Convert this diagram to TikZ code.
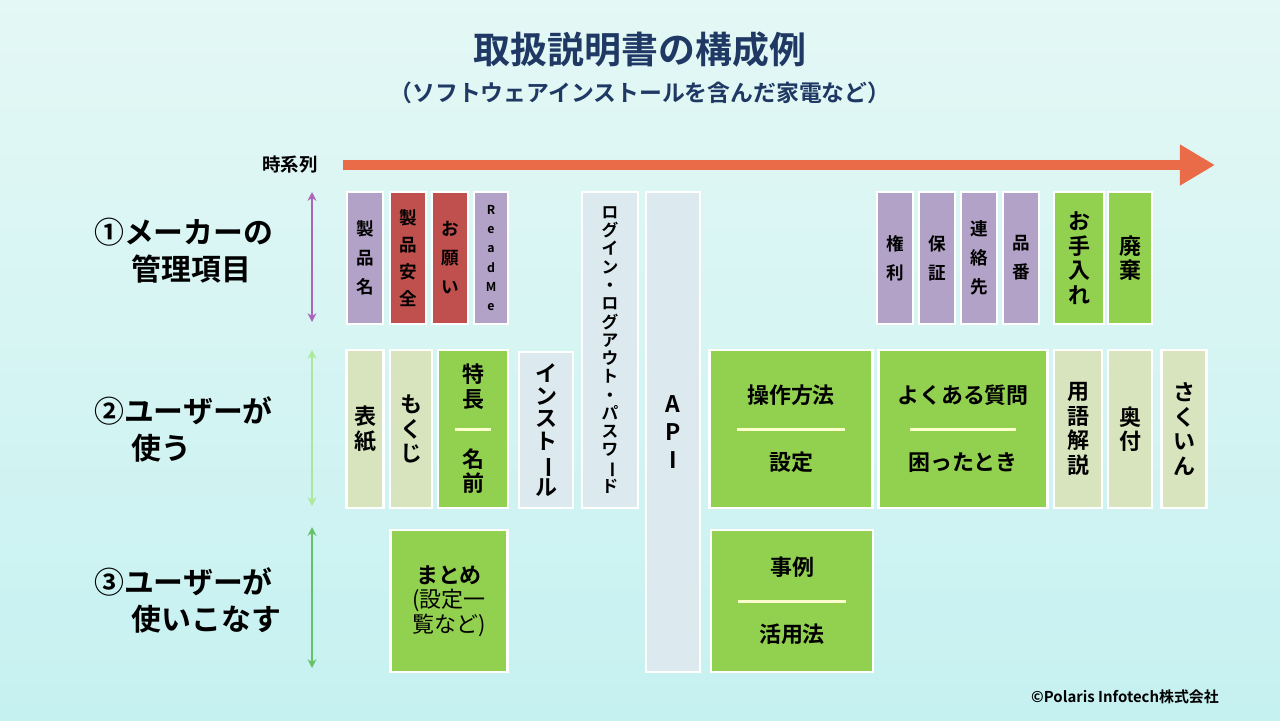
\documentclass[tikz,border=0pt]{standalone}
\usepackage{fontspec}
\setmainfont{Noto Sans CJK JP}[BoldFont={Noto Sans CJK JP Bold}]
\usepackage{graphicx}
\usetikzlibrary{arrows.meta,shadows}
\definecolor{navy}{HTML}{1F3864}
\definecolor{purp}{HTML}{B3A2C7}
\definecolor{redb}{HTML}{C0504D}
\definecolor{grn}{HTML}{92D050}
\definecolor{beige}{HTML}{D7E4BD}
\definecolor{lblue}{HTML}{DCEAF0}
\definecolor{timec}{HTML}{EA6B48}
\definecolor{bgtop}{HTML}{E4F8F5}
\definecolor{bgbot}{HTML}{C6F1F1}
\newcommand\vb{\rotatebox[origin=c]{-90}{ー}}
\newcommand\bx[7]{\node[box,#1,minimum width=#5*0.02cm,minimum height=#6*0.02cm] (#2) at (#3,#4) {#7};}
\tikzset{
  box/.style={draw=white,line width=1.5pt,inner sep=0pt,align=center,font=\bfseries,
    drop shadow={opacity=0.2,shadow xshift=0.6pt,shadow yshift=-0.6pt}},
  small/.style={font=\bfseries\fontsize{10}{16.5}\selectfont},
  big/.style={font=\bfseries\fontsize{12.5}{14}\selectfont},
  sep/.style={draw=green!10!yellow!20,line width=1.7pt},
  span/.style={{Stealth[length=5pt,width=5pt]}-{Stealth[length=5pt,width=5pt]},line width=1.4pt},
  rowlab/.style={anchor=west,align=left,font=\bfseries\fontsize{17}{21}\selectfont}
}
\begin{document}
\begin{tikzpicture}[x=0.02cm,y=-0.02cm]
  % background
  \shade[top color=bgtop,bottom color=bgbot] (0,0) rectangle (1280,720);
  \useasboundingbox (0,0) rectangle (1280,720);

  % title
  \node[text=navy,font=\bfseries\fontsize{21}{24}\selectfont] (title) at (640,50) {取扱説明書の構成例};
  \node[text=navy,font=\bfseries\fontsize{13}{15}\selectfont] (sub) at (640,93) {（ソフトウェアインストールを含んだ家電など）};

  % time axis
  \node[font=\bfseries\fontsize{10.5}{12}\selectfont] (tlab) at (290,165) {時系列};
  \coordinate (t0) at (343,165);
  \coordinate (t1) at (1215,165);
  \draw[timec,line width=5.5pt,-{Triangle[length=20pt,width=22pt]}] (t0) -- (t1);

  % row labels
  \node[rowlab] (r1) at (88,251) {①メーカーの\\\hspace{1.25em}管理項目};
  \node[rowlab] (r2) at (88,429) {②ユーザーが\\\hspace{1.25em}使う};
  \node[rowlab] (r3) at (88,600) {③ユーザーが\\\hspace{1.25em}使いこなす};

  % row spans
  \coordinate (a1) at (312,192); \coordinate (b1) at (312,322);
  \coordinate (a2) at (312,350); \coordinate (b2) at (312,506);
  \coordinate (a3) at (312,527); \coordinate (b3) at (312,668);
  \draw[span,draw=purple!60!blue!60] (a1) -- (b1);
  \draw[span,draw=beige!80!green] (a2) -- (b2);
  \draw[span,draw=green!60!black!60] (a3) -- (b3);

  % row 1
  \bx{small,fill=purp}{seihin}{365}{258}{36}{132}{製\\品\\名}
  \bx{fill=redb,font=\bfseries\fontsize{10}{15.5}\selectfont}{anzen}{408}{258}{36}{132}{製\\品\\安\\全}
  \bx{small,fill=redb}{onegai}{450}{258}{36}{132}{お\\願\\い}
  \bx{fill=purp,font=\bfseries\fontsize{7}{11}\selectfont}{readme}{491}{258}{34}{132}{R\\e\\a\\d\\M\\e}
  \bx{fill=lblue,font=\bfseries\fontsize{9.5}{10.4}\selectfont}{login}{610}{350}{56}{316}{ロ\\グ\\イ\\ン\\・\\ロ\\グ\\ア\\ウ\\ト\\・\\パ\\ス\\ワ\\\vb\\ド}
  \bx{fill=lblue,font=\bfseries\fontsize{13}{16}\selectfont}{api}{673}{432}{54}{480}{A\\P\\I}
  \bx{small,fill=purp}{kenri}{895}{258}{36}{132}{権\\利}
  \bx{small,fill=purp}{hosho}{937}{258}{36}{132}{保\\証}
  \bx{small,fill=purp}{renraku}{979}{258}{36}{132}{連\\絡\\先}
  \bx{small,fill=purp}{hinban}{1021}{258}{36}{132}{品\\番}
  \bx{big,fill=grn}{teire}{1079}{258}{50}{132}{お\\手\\入\\れ}
  \bx{big,fill=grn}{haiki}{1130}{258}{44}{132}{廃\\棄}

  % row 2
  \bx{big,fill=beige}{hyoshi}{365}{429}{37}{158}{表\\紙}
  \bx{big,fill=beige}{mokuji}{411}{429}{42}{158}{も\\く\\じ}
  \bx{big,fill=grn}{tokucho}{473}{429}{70}{158}{特\\長\\[20pt]名\\前}
  \draw[sep] ([xshift=-18*0.02cm]tokucho.center) -- ([xshift=18*0.02cm]tokucho.center);
  \bx{fill=lblue,font=\bfseries\fontsize{12.5}{13}\selectfont}{install}{546}{430}{54}{156}{イ\\ン\\ス\\ト\\\vb\\ル}
  \bx{big,fill=grn}{sosa}{791}{429}{163}{158}{操作方法\\[24pt]設定}
  \draw[sep] ([xshift=-54*0.02cm]sosa.center) -- ([xshift=54*0.02cm]sosa.center);
  \bx{big,fill=grn}{faq}{963}{429}{169}{158}{よくある質問\\[24pt]困ったとき}
  \draw[sep] ([xshift=-53*0.02cm]faq.center) -- ([xshift=53*0.02cm]faq.center);
  \bx{big,fill=beige}{yogo}{1078}{429}{48}{158}{用\\語\\解\\説}
  \bx{big,fill=beige}{okuzuke}{1130}{429}{44}{158}{奥\\付}
  \bx{big,fill=beige}{sakuin}{1184}{429}{45}{158}{さ\\く\\い\\ん}

  % row 3
  \bx{big,fill=grn}{matome}{449}{601}{117}{142}{まとめ\\\mdseries(設定一\\\mdseries 覧など)}
  \bx{big,fill=grn}{jirei}{792}{601}{162}{142}{事例\\[24pt]活用法}
  \draw[sep] ([xshift=-54*0.02cm]jirei.center) -- ([xshift=54*0.02cm]jirei.center);

  % copyright
  \node[font=\bfseries\fontsize{8.5}{10}\selectfont] (copy) at (1125,697) {©Polaris Infotech株式会社};
\end{tikzpicture}
\end{document}
